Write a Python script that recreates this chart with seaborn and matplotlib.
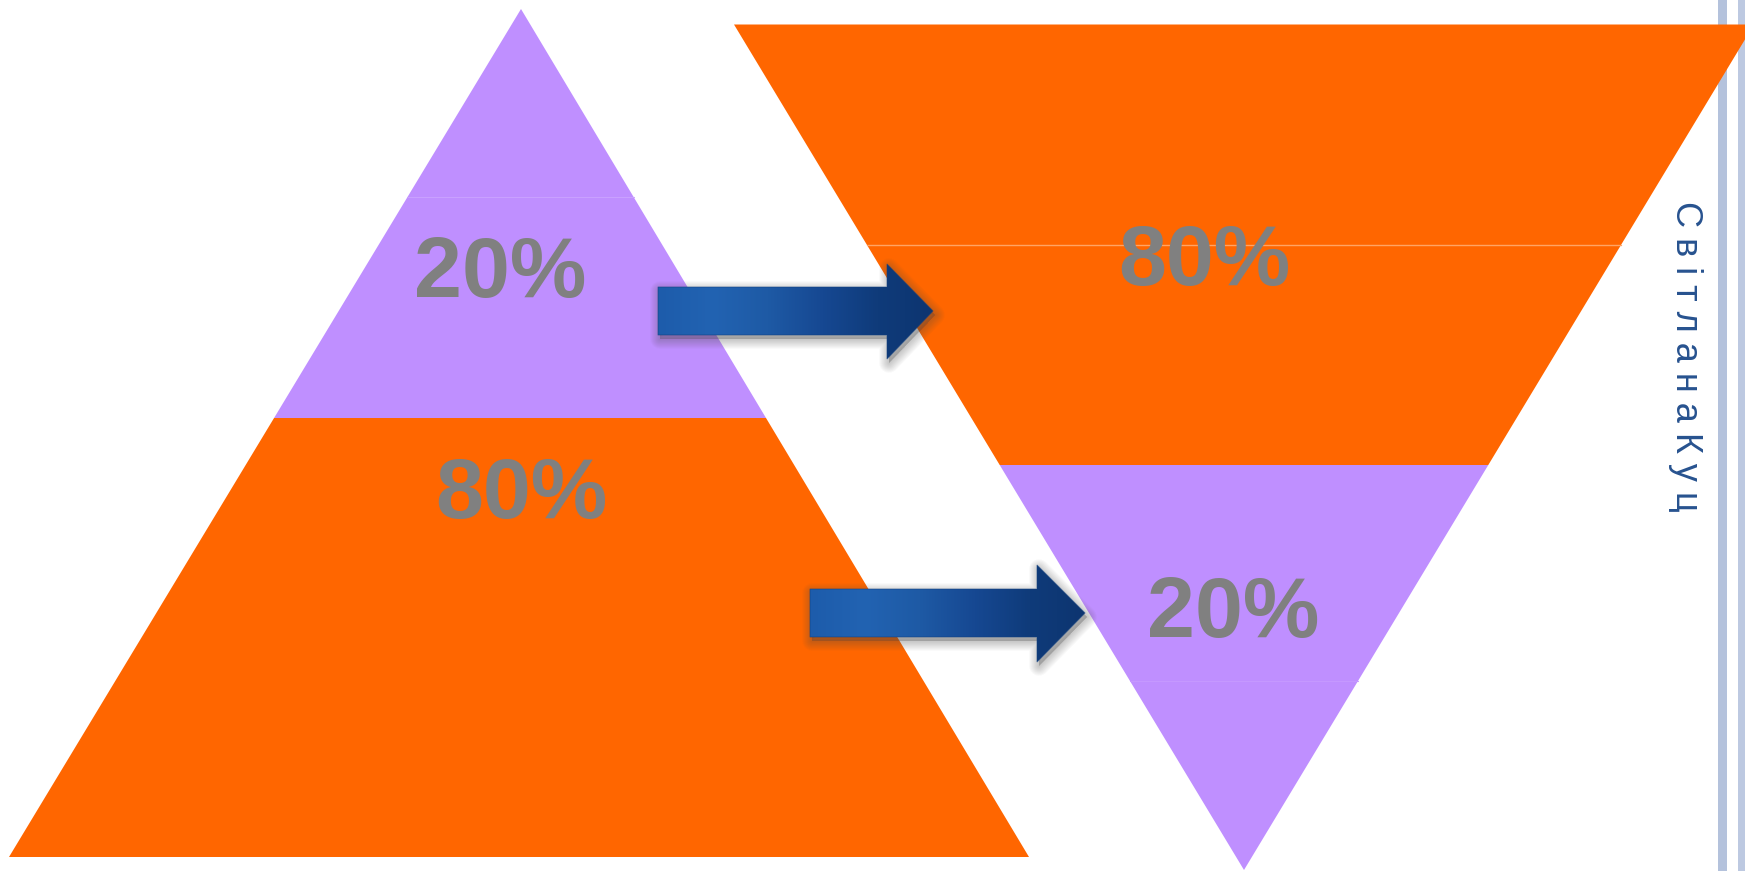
import numpy as np
import matplotlib
matplotlib.use("Agg")
import matplotlib.pyplot as plt
from matplotlib.patches import Polygon
from matplotlib.colors import LinearSegmentedColormap
import seaborn as sns

# ---- data ----
shares_before = [20, 80]          # left pyramid, top -> bottom
shares_after = [80, 20]           # right inverted pyramid, top -> bottom
labels_before = [f"{v}%" for v in shares_before]
labels_after = [f"{v}%" for v in shares_after]
author = "Світлана Куц"

# ---- style ----
sns.set_theme(style="white")
plt.rcParams["font.family"] = ["Liberation Sans", "DejaVu Sans"]
PURPLE = "#bf8fff"
ORANGE = "#ff6600"
LABEL_GRAY = "#808080"
TEXT_BLUE = "#27528f"

W, H = 1745, 871
fig = plt.figure(figsize=(W / 100, H / 100), dpi=100)
ax = fig.add_axes([0, 0, 1, 1])
ax.set_xlim(0, W)
ax.set_ylim(H, 0)
ax.axis("off")

# ---- right-hand decorative stripes ----
ax.add_patch(Polygon([(1718, 0), (1727, 0), (1727, H), (1718, H)], closed=True,
                     fc="#b4c2dc", ec="none", zorder=1))
ax.add_patch(Polygon([(1738, 0), (1746, 0), (1746, H), (1738, H)], closed=True,
                     fc="#bdc9e1", ec="none", zorder=1))

# ---- left pyramid (upright) ----
apex = (521, 9)
base_y, base_l, base_r = 857, 9, 1029
split_l = 418  # boundary between 20% and 80% layers


def lx(y):
    return apex[0] - (apex[0] - base_l) * (y - apex[1]) / (base_y - apex[1])


def rx(y):
    return apex[0] + (base_r - apex[0]) * (y - apex[1]) / (base_y - apex[1])


layers_left = [(apex[1], split_l, PURPLE), (split_l, base_y, ORANGE)]
for (y0, y1, col) in layers_left:
    pts = [(lx(y0), y0), (rx(y0), y0), (rx(y1), y1), (lx(y1), y1)]
    ax.add_patch(Polygon(pts, closed=True, fc=col, ec="none", zorder=2))
ax.plot([lx(197), rx(197)], [197, 197], color="#c9a0ff", lw=0.8, zorder=3)

# ---- right pyramid (inverted) ----
top_y, top_l, top_r = 24.5, 734, 1754
apex2 = (1244, 870)
split_r = 465


def lx2(y):
    return top_l + (apex2[0] - top_l) * (y - top_y) / (apex2[1] - top_y)


def rx2(y):
    return top_r - (top_r - apex2[0]) * (y - top_y) / (apex2[1] - top_y)


layers_right = [(top_y, split_r, ORANGE), (split_r, apex2[1], PURPLE)]
for (y0, y1, col) in layers_right:
    pts = [(lx2(y0), y0), (rx2(y0), y0), (rx2(y1), y1), (lx2(y1), y1)]
    ax.add_patch(Polygon(pts, closed=True, fc=col, ec="none", zorder=2))
ax.plot([lx2(245), rx2(245)], [245, 245], color="#ffa466", lw=1, zorder=3)
ax.plot([lx2(681), rx2(681)], [681, 681], color="#c598ff", lw=0.8, zorder=3)

# ---- percentage labels ----
lbl_kw = dict(color=LABEL_GRAY, fontsize=62, fontweight="bold",
              ha="center", va="baseline", zorder=6)
ax.text(500, 297, labels_before[0], **lbl_kw)
ax.text(521, 518, labels_before[1], **lbl_kw)
ax.text(1204, 285, labels_after[0], **lbl_kw)
ax.text(1233, 637, labels_after[1], **lbl_kw)

# ---- arrows ----
arrow_cmap = LinearSegmentedColormap.from_list(
    "arr", ["#1d5cab", "#2263b2", "#1e5aa5", "#164892", "#0f3b7a", "#0d3570"])


def arrow(x0, x1, ys0, ys1, yh0, yh1, tip):
    ymid = (ys0 + ys1) / 2
    pts = [(x0, ys0), (x1, ys0), (x1, yh0), (tip, ymid),
           (x1, yh1), (x1, ys1), (x0, ys1)]
    # soft shadow
    for lw in np.linspace(14, 0.5, 10):
        sh = [(px + 2, py + 4) for px, py in pts]
        ax.add_patch(Polygon(sh, closed=True, fc="#505050", ec="#505050",
                             lw=lw, alpha=0.035, joinstyle="round", zorder=4))
    poly = Polygon(pts, closed=True, fc="none", ec="none", zorder=5)
    ax.add_patch(poly)
    grad = np.linspace(0, 1, 256).reshape(1, -1)
    im = ax.imshow(grad, cmap=arrow_cmap, aspect="auto",
                   extent=[x0, tip, yh1, yh0], zorder=5, interpolation="bicubic")
    im.set_clip_path(poly)
    ax.add_patch(Polygon(pts, closed=True, fc="none", ec="#12407f",
                         lw=0.8, alpha=0.5, zorder=5))


arrow(658, 887, 287, 335, 264, 359, 933)
arrow(810, 1037, 589, 637, 565, 662, 1085)

ax.set_xlim(0, W)
ax.set_ylim(H, 0)

# ---- author name ----
ax.text(1686, 356, " ".join(author.replace(" ", "")), rotation=270,
        color=TEXT_BLUE, fontsize=26, ha="center", va="center", zorder=6)

fig.savefig("out.png", dpi=100)
